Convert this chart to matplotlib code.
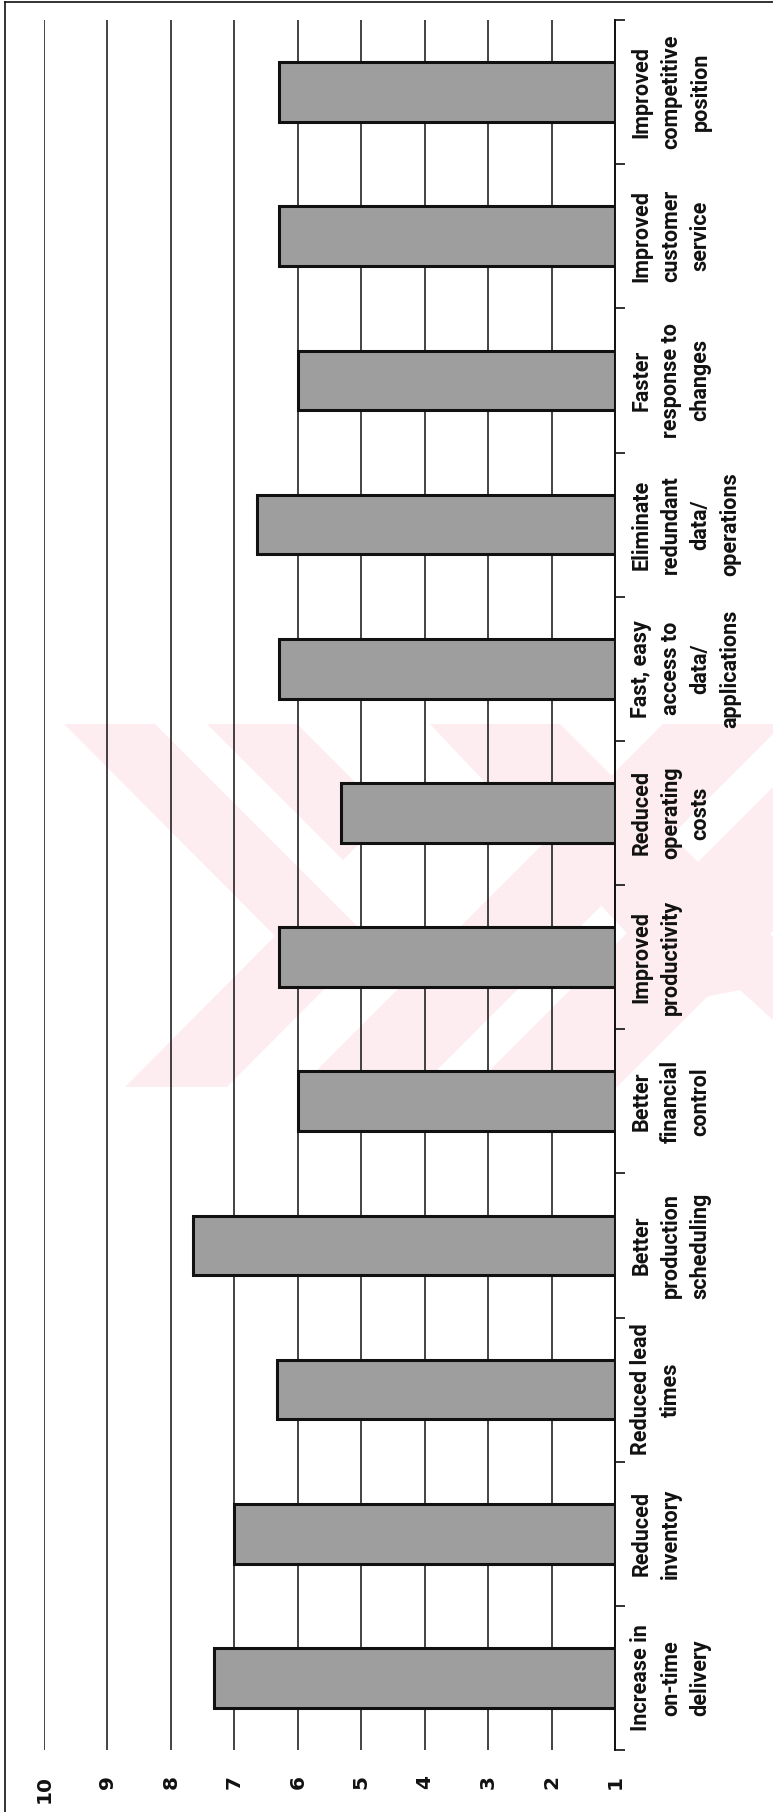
#!/usr/bin/env python3
"""Rotated bar chart: perceived benefits, scored 1-10."""

import matplotlib

matplotlib.use("Agg")
import matplotlib.pyplot as plt
import numpy as np
from matplotlib import font_manager
from matplotlib.lines import Line2D
from matplotlib.patches import Polygon

W, H = 773, 1812

INK = "#111111"
BAR = "#9e9e9e"
PINK = "#fdedf0"

# bottom -> top
CATEGORIES = [
    "Increase in\non-time\ndelivery",
    "Reduced\ninventory",
    "Reduced lead\ntimes",
    "Better\nproduction\nscheduling",
    "Better\nfinancial\ncontrol",
    "Improved\nproductivity",
    "Reduced\noperating\ncosts",
    "Fast, easy\naccess to\ndata/\napplications",
    "Eliminate\nredundant\ndata/\noperations",
    "Faster\nresponse to\nchanges",
    "Improved\ncustomer\nservice",
    "Improved\ncompetitive\nposition",
]
SCORES = [7.32, 7.0, 6.33, 7.65, 6.0, 6.3, 5.32, 6.3, 6.65, 6.0, 6.3, 6.3]
SCALE_TICKS = [1, 2, 3, 4, 5, 6, 7, 8, 9, 10]
SCALE_LABELS = ["1", "2", "3", "4", "5", "6", "7", "8", "9", "10"]


def pick_font(names):
    for name in names:
        try:
            font_manager.findfont(name, fallback_to_default=False)
            return name
        except Exception:
            continue
    return "DejaVu Sans"


def px(x, y):
    # pixel coords (origin top-left) -> figure fraction
    return (x / W, 1 - y / H)


def watermark(fig):
    shapes = [
        [(64, 724), (155, 724), (372, 941), (227, 1087), (125, 1087), (275, 936)],
        [(207, 724), (297, 724), (388, 815), (343, 860)],
        [(300, 1087), (420, 1087), (773, 734), (773, 724), (663, 724)],
        [(473, 1087), (617, 1087), (773, 931), (773, 787)],
        [(430, 724), (560, 724), (773, 937), (773, 1020), (740, 990), (690, 1000)],
    ]
    for pts in shapes:
        fig.patches.append(
            Polygon([px(*p) for p in pts], closed=True, transform=fig.transFigure,
                    facecolor=PINK, edgecolor="none", zorder=-5)
        )


def main():
    label_font = pick_font(["Liberation Sans Narrow", "Roboto", "DejaVu Sans"])

    fig = plt.figure(figsize=(W / 100, H / 100), dpi=100)
    fig.patch.set_facecolor("white")
    watermark(fig)

    # scan frame (left and top edges of the chart area)
    fig.add_artist(Line2D([5 / W, 5 / W], [0, 1 - 2 / H], transform=fig.transFigure, color=INK, lw=1.2))
    fig.add_artist(Line2D([5 / W, 1], [1 - 2 / H, 1 - 2 / H], transform=fig.transFigure, color=INK, lw=1.2))

    ax = fig.add_axes([44 / W, 62 / H, 571 / W, 1730 / H])
    ax.set_facecolor("none")

    pos = np.arange(len(CATEGORIES))
    ax.barh(pos, [s - 1 for s in SCORES], left=1, height=0.415,
            color=BAR, edgecolor=INK, linewidth=2.2, zorder=3)

    ax.set_xlim(10, 1)
    ax.set_ylim(-0.5, len(CATEGORIES) - 0.5)

    ax.set_xticks(SCALE_TICKS)
    ax.set_xticklabels(SCALE_LABELS, rotation=90, fontsize=14.5, fontweight="bold",
                       family="DejaVu Sans")
    ax.tick_params(axis="x", length=0, pad=18, colors=INK)
    ax.grid(axis="x", color=INK, linewidth=1.1)
    ax.set_axisbelow(True)

    ax.yaxis.tick_right()
    ax.set_yticks(pos)
    ax.set_yticklabels(CATEGORIES, rotation=90, fontsize=15.5, fontweight="bold",
                       family=label_font, multialignment="center", linespacing=1.45)
    for lbl in ax.get_yticklabels():
        lbl.set_va("center")
        lbl.set_ha("left")
    ax.set_yticks(np.arange(-0.5, len(CATEGORIES), 1), minor=True)
    ax.tick_params(axis="y", which="major", length=0, pad=11, colors=INK)
    ax.tick_params(axis="y", which="minor", length=7, width=1.2, direction="out",
                   right=True, left=False, colors=INK)

    for side in ("top", "bottom", "left"):
        ax.spines[side].set_visible(False)
    ax.spines["right"].set_color(INK)
    ax.spines["right"].set_linewidth(1.4)

    fig.savefig("out.png", dpi=100)


if __name__ == "__main__":
    main()
